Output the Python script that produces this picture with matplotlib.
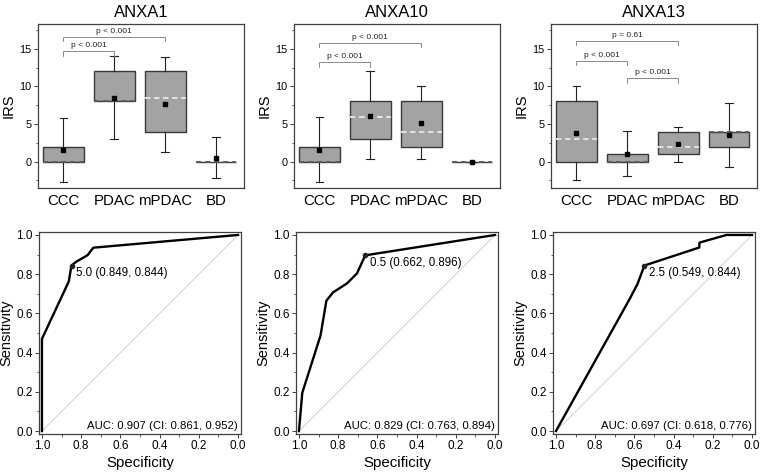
import matplotlib
matplotlib.use("Agg")
import matplotlib.pyplot as plt
from matplotlib.ticker import MultipleLocator, FormatStrFormatter

plt.rcParams["font.family"] = ["Liberation Sans", "DejaVu Sans"]

groups = ["CCC", "PDAC", "mPDAC", "BD"]
titles = ["ANXA1", "ANXA10", "ANXA13"]

# box stats per marker: q1, q3, median, mean, whisker low, whisker high
q1 = [[0, 8, 4, 0], [0, 3, 2, 0], [0, 0, 1, 2]]
q3 = [[2, 12, 12, 0], [2, 8, 8, 0], [8, 1, 4, 4]]
med = [[0, 8, 8.5, 0], [0, 6, 4, 0], [3, 0, 2, 4]]
mean = [[1.5, 8.5, 7.6, 0.5], [1.6, 6.1, 5.2, 0.0], [3.8, 1.0, 2.3, 3.5]]
wlo = [[-2.7, 3.0, 1.3, -2.2], [-2.7, 0.3, 0.3, 0.0], [-2.4, -1.9, 0.0, -0.7]]
whi = [[5.8, 14.1, 13.9, 3.3], [5.9, 12.0, 10.1, 0.0], [10.0, 4.1, 4.6, 7.8]]

# significance brackets: (group a, group b, height, label)
brackets = [
    [(0, 1, 14.7, "p < 0.001"), (0, 2, 16.6, "p < 0.001")],
    [(0, 1, 13.2, "p < 0.001"), (0, 2, 15.8, "p < 0.001")],
    [(0, 1, 13.4, "p < 0.001"), (0, 2, 16.1, "p = 0.61"), (1, 2, 11.1, "p < 0.001")],
]

# ROC curves (specificity, sensitivity)
roc_spec = [
    [1.0, 1.0, 0.863, 0.851, 0.849, 0.826, 0.767, 0.738, 0.0],
    [1.0, 0.983, 0.890, 0.860, 0.826, 0.755, 0.704, 0.662, 0.0],
    [1.0, 0.626, 0.584, 0.549, 0.269, 0.268, 0.13, 0.0],
]
roc_sens = [
    [0.0, 0.47, 0.763, 0.835, 0.844, 0.863, 0.897, 0.935, 1.0],
    [0.0, 0.195, 0.487, 0.665, 0.707, 0.753, 0.804, 0.896, 1.0],
    [0.0, 0.67, 0.75, 0.844, 0.936, 0.961, 1.0, 1.0],
]
cut_labels = ["5.0", "0.5", "2.5"]
cut_spec = [0.849, 0.662, 0.549]
cut_sens = [0.844, 0.896, 0.844]
auc_text = ["AUC: 0.907 (CI: 0.861, 0.952)",
            "AUC: 0.829 (CI: 0.763, 0.894)",
            "AUC: 0.697 (CI: 0.618, 0.776)"]

fig = plt.figure(figsize=(7.6, 4.75), dpi=100)
W, H = 760.0, 475.0
top_lefts = [38, 294, 551]
bot_lefts = [39, 296, 553]
spine_c = "#404040"

for i in range(3):
    # ---- box panel ----
    ax = fig.add_axes([top_lefts[i] / W, 1 - 188 / H, 206 / W, 164 / H])
    stats = []
    for j in range(4):
        stats.append(dict(q1=q1[i][j], q3=q3[i][j], med=med[i][j], mean=mean[i][j],
                          whislo=wlo[i][j], whishi=whi[i][j], fliers=[]))
    res = ax.bxp(stats, positions=[1, 2, 3, 4], widths=0.8, showmeans=True,
                 patch_artist=True, capwidths=0.15,
                 boxprops=dict(facecolor="#a3a3a3", edgecolor="#3a3a3a", linewidth=1.0),
                 whiskerprops=dict(color="#222222", linewidth=0.8),
                 capprops=dict(color="#222222", linewidth=0.8),
                 medianprops=dict(linestyle=(0, (3, 2)), linewidth=1.3),
                 meanprops=dict(marker="s", markersize=3, markerfacecolor="black",
                                markeredgecolor="black"))
    for j, ln in enumerate(res["medians"]):
        on_edge = med[i][j] in (q1[i][j], q3[i][j])
        ln.set_color("#5a5a5a" if on_edge else "#e8e8e8")
    for a, b, h, lab in brackets[i]:
        ax.plot([a + 1, a + 1, b + 1, b + 1], [h - 0.6, h, h, h - 0.6],
                color="#8a8a8a", lw=0.7)
        ax.text((a + b) / 2 + 1, h + 0.25, lab, ha="center", va="bottom", fontsize=6,
                color="#222222")
    ax.set_xlim(0.5, 4.55)
    ax.set_ylim(-3.5, 18.3)
    ax.set_xticks([1, 2, 3, 4])
    ax.set_xticklabels(groups, fontsize=10.8)
    ax.set_yticks([0, 5, 10, 15])
    ax.yaxis.set_minor_locator(MultipleLocator(2.5))
    ax.tick_params(axis="y", labelsize=7.8, length=3, width=0.7, pad=1.5, color=spine_c)
    ax.tick_params(axis="y", which="minor", length=1.8, width=0.6, color=spine_c)
    ax.tick_params(axis="x", length=0, pad=4)
    ax.set_ylabel("IRS", fontsize=10.5, labelpad=3)
    ax.set_title(titles[i], fontsize=12, pad=5)
    for s in ax.spines.values():
        s.set_color(spine_c)
        s.set_linewidth(0.9)

    # ---- ROC panel ----
    ax2 = fig.add_axes([bot_lefts[i] / W, 1 - 434 / H, 202 / W, 202 / H])
    ax2.plot([1, 0], [0, 1], color="#c8c8c8", lw=0.6)
    ax2.plot(roc_spec[i], roc_sens[i], color="black", lw=1.7)
    ax2.plot([cut_spec[i]], [cut_sens[i]], "o", color="#222222", markersize=3)
    ax2.text(cut_spec[i] - 0.025, cut_sens[i] - 0.01,
             "%s (%.3f, %.3f)" % (cut_labels[i], cut_spec[i], cut_sens[i]),
             ha="left", va="top", fontsize=8.3)
    ax2.text(0.985, 0.015, auc_text[i], transform=ax2.transAxes, ha="right",
             va="bottom", fontsize=8.2)
    ax2.set_xlim(1.015, -0.015)
    ax2.set_ylim(-0.015, 1.015)
    ax2.set_xticks([1.0, 0.8, 0.6, 0.4, 0.2, 0.0])
    ax2.set_yticks([0.0, 0.2, 0.4, 0.6, 0.8, 1.0])
    ax2.xaxis.set_minor_locator(MultipleLocator(0.1))
    ax2.yaxis.set_minor_locator(MultipleLocator(0.1))
    ax2.xaxis.set_major_formatter(FormatStrFormatter("%.1f"))
    ax2.yaxis.set_major_formatter(FormatStrFormatter("%.1f"))
    ax2.tick_params(labelsize=8.5, length=3, width=0.7, pad=1.5, color=spine_c)
    ax2.tick_params(which="minor", length=1.8, width=0.6, color=spine_c)
    ax2.set_xlabel("Specificity", fontsize=10.8, labelpad=3)
    ax2.set_ylabel("Sensitivity", fontsize=10.5, labelpad=2)
    for s in ax2.spines.values():
        s.set_color(spine_c)
        s.set_linewidth(0.9)

fig.savefig("out.png", dpi=100)
